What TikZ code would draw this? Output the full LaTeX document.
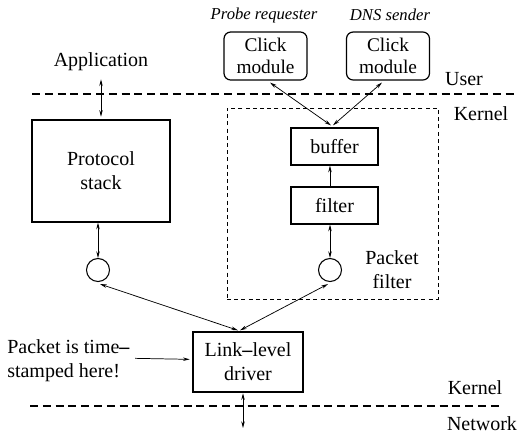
\documentclass[tikz,border=0pt]{standalone}
\usepackage{fontspec}
\setmainfont{Liberation Serif}
\newfontfamily\timesfont{Liberation Serif}
\usetikzlibrary{arrows.meta}
\begin{document}
\begin{tikzpicture}[x=0.75pt,y=-0.75pt,
  every node/.style={font=\timesfont\fontsize{15}{18}\selectfont, inner sep=0pt, align=center},
  box/.style={draw, line width=0.9pt},
  rbox/.style={draw, line width=0.9pt, rounded corners=5pt, minimum width=62.25pt, minimum height=36pt, font=\timesfont\fontsize{14.5}{16.5}\selectfont},
  port/.style={draw, line width=0.8pt, circle, minimum size=17.25pt},
  lbl/.style={font=\timesfont\fontsize{12.5}{15}\selectfont\itshape},
  con/.style={line width=0.55pt},
  dar/.style={con, {Stealth[length=5pt,width=2.6pt]}-{Stealth[length=5pt,width=2.6pt]}},
  sar/.style={con, -{Stealth[length=5pt,width=2.6pt]}},
  sep/.style={line width=0.8pt, dash pattern=on 6pt off 3.6pt},
  pfbox/.style={line width=0.55pt, dash pattern=on 3pt off 2.4pt}
]
\useasboundingbox (0,0) rectangle (520,436);

% separators
\coordinate (s1a) at (32,94);
\coordinate (s1b) at (518,94);
\coordinate (s2a) at (30,406);
\coordinate (s2b) at (503,406);
\draw[sep] (s1a) -- (s1b);
\draw[sep] (s2a) -- (s2b);

% layer labels
\node (user) at (464,79) {User};
\node (kern1) at (481,114) {Kernel};
\node (kern2) at (475,388) {Kernel};
\node (net) at (482,424) {Network};

% packet filter area
\node[draw, pfbox, minimum width=158.25pt, minimum height=143.25pt] (pf) at (332.5,203.5) {};
\node (pflbl) at (392,270) {Packet\\filter};

% boxes
\node (app) at (101,62) {Application};
\node[box, minimum width=103.5pt, minimum height=76.5pt] (ps) at (101,171) {Protocol\\stack};
\node[box, minimum width=65.25pt, minimum height=27.75pt] (buf) at (334.5,146.5) {buffer};
\node[box, minimum width=65.25pt, minimum height=27.75pt] (flt) at (334.5,205.5) {filter};
\node[rbox] (ck1) at (265.5,56) {Click\\module};
\node[rbox] (ck2) at (388,56) {Click\\module};
\node[lbl] (pr) at (264,15) {Probe requester};
\node[lbl] (dns) at (390,15) {DNS sender};
\node[port] (c1) at (98,270) {};
\node[port] (c2) at (330,270) {};
\node[box, minimum width=82.5pt, minimum height=45pt] (drv) at (248,362) {Link\textbf{–}level\\driver};
\node[align=left, anchor=west] (ts) at (7,361) {Packet is time\textbf{–}\\stamped here!};

% connectors
\draw[dar] ([yshift=-6pt]app.south) -- ([yshift=2pt]app.south |- ps.north);
\draw[dar] (c1 |- ps.south) -- (c1.north);
\draw[dar] (c2 |- flt.south) -- (c2.north);
\draw[sar] ([xshift=-3.4pt]flt.north) -- ([xshift=-3.4pt]buf.south);
\draw[dar] ([xshift=3.4pt,yshift=-1.5pt]ck1.south) -- ([xshift=-2.6pt,yshift=1.5pt]buf.north);
\draw[dar] ([xshift=-4.5pt,yshift=-1.5pt]ck2.south) -- ([xshift=-1.2pt,yshift=1.5pt]buf.north);
\draw[dar] ([xshift=1.5pt,yshift=-1.5pt]c1.south) -- ([xshift=-7.5pt,yshift=0.8pt]drv.north);
\draw[dar] ([xshift=-1.5pt,yshift=-1.5pt]c2.south) -- ([xshift=-6pt,yshift=0.8pt]drv.north);
\draw[sar] ([xshift=4pt,yshift=2pt]ts.east) -- ([xshift=-2pt,yshift=2pt]drv.west);
\coordinate (netend) at (243,428);
\draw[dar] ([xshift=-3.75pt,yshift=-0.5pt]drv.south) -- (netend);
\end{tikzpicture}
\end{document}
